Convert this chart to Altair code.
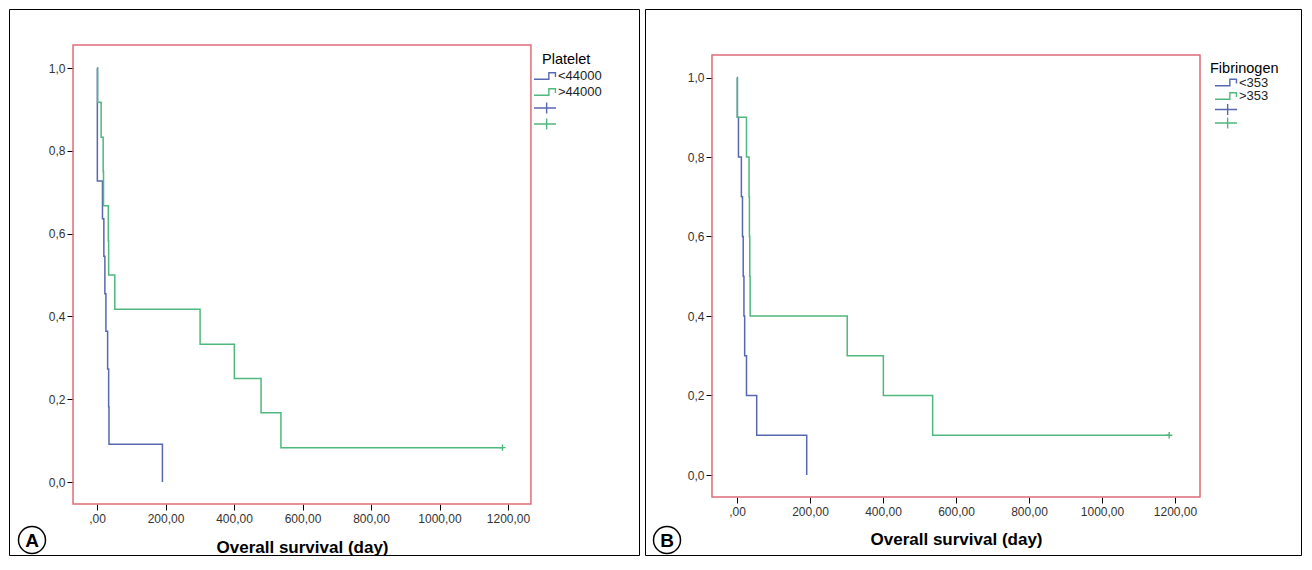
import altair as alt
import pandas as pd

FONT = "Liberation Sans"
BLUE = "#5868b0"
GREEN = "#4fb87c"
RED = "#e06c78"

# ---------------- Panel A: Platelet ----------------
a_blue_t = [0, 1, 16, 20, 23, 26, 31, 34, 35, 191]
a_blue_s = [1.0, 0.727, 0.636, 0.545, 0.455, 0.364, 0.273, 0.182, 0.091, 0.0]
a_green_t = [0, 2, 12, 18, 19, 33, 34, 52, 301, 401, 479, 537, 1184]
a_green_s = [1.0, 0.917, 0.833, 0.75, 0.667, 0.583, 0.5, 0.417, 0.333, 0.25, 0.167, 0.083, 0.083]
a_cens_t = [1184]
a_cens_s = [0.083]
a_legend_title = "Platelet"
a_labels = ["<44000", ">44000"]

# ---------------- Panel B: Fibrinogen ----------------
b_blue_t = [0, 1, 4, 12, 15, 17, 19, 21, 26, 54, 191]
b_blue_s = [1.0, 0.9, 0.8, 0.7, 0.6, 0.5, 0.4, 0.3, 0.2, 0.1, 0.0]
b_green_t = [0, 1, 26, 33, 34, 35, 36, 302, 401, 536, 1184]
b_green_s = [1.0, 0.9, 0.8, 0.7, 0.6, 0.5, 0.4, 0.3, 0.2, 0.1, 0.1]
b_cens_t = [1184]
b_cens_s = [0.1]
b_legend_title = "Fibrinogen"
b_labels = ["<353", ">353"]

x_ticks = [0, 200, 400, 600, 800, 1000, 1200]
y_ticks = [0.0, 0.2, 0.4, 0.6, 0.8, 1.0]
x_title = "Overall survival (day)"

H = 546
STEP = "M-1,0.3H0.35V-0.3H0.95V0.1"
PLUS_LEG = "M-1,0H1M0.15,-0.5V0.5"
PLUS = "M-1,0H1M0,-1V1"


def txt(text, x, y, size, weight="normal", align="left", baseline="middle", color="black"):
    return alt.Chart(alt.Data(values=[{}])).mark_text(
        text=text, align=align, baseline=baseline, fontSize=size,
        fontWeight=weight, font=FONT, color=color
    ).encode(x=alt.value(x), y=alt.value(y))


def sym(shape, x, y, color, size):
    return alt.Chart(alt.Data(values=[{}])).mark_point(
        shape=shape, filled=False, size=size, strokeWidth=1.4, color=color, opacity=1
    ).encode(x=alt.value(x), y=alt.value(y))


def panel(p):
    xs = alt.Scale(domain=p["xdom"], nice=False, zero=False)
    ys = alt.Scale(domain=p["ydom"], nice=False, zero=False)
    xa = alt.Axis(
        values=x_ticks,
        labelExpr="datum.value == 0 ? ',00' : replace(format(datum.value, '.2f'), '.', ',')",
        domain=False, grid=False, tickSize=6, tickColor="black", tickWidth=1,
        labelFontSize=12, labelColor="#333333", labelFont=FONT, labelPadding=3,
        offset=p["xoff"], title=x_title, titleFont=FONT, titleFontSize=17,
        titleFontWeight="bold", titleColor="black", titleX=p["titleX"], titleY=p["titleY"],
        titleAlign="center", titleBaseline="alphabetic",
    )
    ya = alt.Axis(
        values=y_ticks,
        labelExpr="replace(format(datum.value, '.1f'), '.', ',')",
        domain=False, grid=False, tickSize=6, tickColor="black", tickWidth=1,
        labelFontSize=12, labelColor="#333333", labelFont=FONT, labelPadding=2,
        offset=p["yoff"], title=None,
    )
    X = lambda f: alt.X(f, type="quantitative", scale=xs, axis=xa)
    Y = lambda f: alt.Y(f, type="quantitative", scale=ys, axis=ya)

    frame_df = pd.DataFrame({"t": [p["frame"][0]], "t2": [p["frame"][1]],
                             "s": [p["frame"][2]], "s2": [p["frame"][3]]})
    frame = alt.Chart(frame_df).mark_rect(
        fillOpacity=0, stroke=RED, strokeWidth=1.5
    ).encode(x=X("t"), x2="t2", y=Y("s"), y2="s2")

    blue = alt.Chart(pd.DataFrame({"t": p["bt"], "s": p["bs"]})).mark_line(
        interpolate="step-after", color=BLUE, strokeWidth=1.5
    ).encode(x=X("t"), y=Y("s"))
    green = alt.Chart(pd.DataFrame({"t": p["gt"], "s": p["gs"]})).mark_line(
        interpolate="step-after", color=GREEN, strokeWidth=1.5
    ).encode(x=X("t"), y=Y("s"))
    cens = alt.Chart(pd.DataFrame({"t": p["ct"], "s": p["cs"]})).mark_point(
        shape=PLUS, filled=False, size=40, strokeWidth=1.4, color=GREEN, opacity=1
    ).encode(x=X("t"), y=Y("s"))

    lx, ly = p["leg"]
    sx = p["symx"]
    dy = p["legdy"]
    legend = [
        txt(p["ltitle"], lx, ly, 14.5),
        sym(STEP, sx, ly + dy, BLUE, 484),
        txt(p["labels"][0], sx + 13, ly + dy, 13, color="#222222"),
        sym(STEP, sx, ly + 2 * dy, GREEN, 484),
        txt(p["labels"][1], sx + 13, ly + 2 * dy, 13, color="#222222"),
        sym(PLUS_LEG, sx, ly + 3 * dy, BLUE, 484),
        sym(PLUS_LEG, sx, ly + 4 * dy, GREEN, 484),
    ]
    cx, cy = p["circle"]
    badge = [
        alt.Chart(alt.Data(values=[{}])).mark_point(
            shape="circle", filled=False, size=729, strokeWidth=1.5, color="black", opacity=1
        ).encode(x=alt.value(cx), y=alt.value(cy)),
        txt(p["letter"], cx, cy + 1, 19, weight="bold", align="center"),
    ]
    return alt.layer(frame, blue, green, cens, *legend, *badge).properties(
        width=p["w"], height=H
    )


pA = dict(
    xdom=[-88 / 0.3425, (630 - 88) / 0.3425], ydom=[(473 - H) / 414, 473 / 414],
    xoff=495 - H, yoff=-64, titleX=293, titleY=48,
    frame=[-70, 1267, -0.053, 1.0556],
    bt=a_blue_t, bs=a_blue_s, gt=a_green_t, gs=a_green_s, ct=a_cens_t, cs=a_cens_s,
    ltitle=a_legend_title, labels=a_labels, leg=(533, 51), symx=536, legdy=16,
    circle=(23, 531), letter="A", w=630,
)
pB = dict(
    xdom=[-92 / 0.365, (656 - 92) / 0.365], ydom=[(466 - H) / 397.5, 466 / 397.5],
    xoff=488 - H, yoff=-67, titleX=311, titleY=47,
    frame=[-68.5, 1268.5, -0.0553, 1.0566],
    bt=b_blue_t, bs=b_blue_s, gt=b_green_t, gs=b_green_s, ct=b_cens_t, cs=b_cens_s,
    ltitle=b_legend_title, labels=b_labels, leg=(565, 60), symx=581, legdy=13.5,
    circle=(22, 531), letter="B", w=656,
)

chart = alt.hconcat(panel(pA), panel(pB), spacing=4).properties(
    padding=0, background="white"
).configure_view(stroke="black", strokeWidth=1)

chart.save("out.html", embed_options={"renderer": "svg", "actions": False})
